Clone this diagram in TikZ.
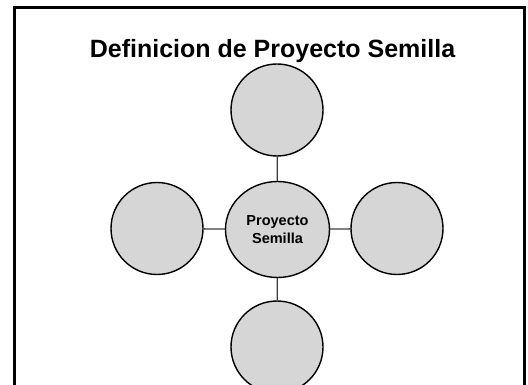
\documentclass[tikz,border=0pt]{standalone}
\usepackage{fontspec}
\setmainfont{Liberation Sans}
\usetikzlibrary{shapes}
\usetikzlibrary{positioning}

\definecolor{relleno}{RGB}{214,214,214}
\definecolor{enlace}{RGB}{60,60,60}

\begin{document}
\begin{tikzpicture}[x=1pt,y=-1pt]
\tikzstyle{every node}=[font=\bfseries]
\tikzstyle{burbuja}=[circle,draw=black,line width=1.4pt,fill=relleno,minimum size=92pt,inner sep=0pt]
\tikzstyle{enlace}=[draw=enlace,line width=1.3pt]
\def\cx{277}

\clip (0,0) rectangle (528,385);

%=== Marco
\draw[line width=3.2pt] (14.5,7.7) rectangle (524.5,420);

% Titre
\node[anchor=base] (titulo) at (272.5,58) {\fontsize{25}{30}\selectfont Definicion de Proyecto Semilla};

%=== Burbujas
\node[ellipse,draw=black,line width=1.4pt,fill=relleno,minimum width=104pt,minimum height=96pt,inner sep=0pt,align=center,font=\bfseries\fontsize{14.5}{18}\selectfont] (centro) at (\cx.5,229.5) {Proyecto\\Semilla};
\node[burbuja] (arriba) at (\cx,110) {};
\node[burbuja] (izq) at (157,228.5) {};
\node[burbuja] (der) at (397,228.5) {};
\node[burbuja] (abajo) at (\cx,347) {};

% Enlaces
\draw[enlace] (centro) -- (arriba);
\draw[enlace] (centro) -- (izq);
\draw[enlace] (centro) -- (der);
\draw[enlace] (centro) -- (abajo);
\end{tikzpicture}
\end{document}
